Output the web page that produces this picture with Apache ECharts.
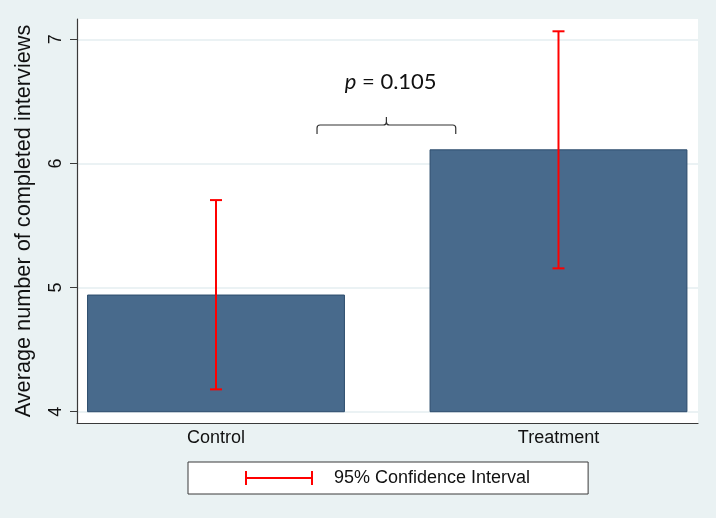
<!DOCTYPE html>
<html>
<head>
<meta charset="utf-8">
<script src="https://cdn.jsdelivr.net/npm/echarts@6/dist/echarts.min.js"></script>
<style>
  html, body { margin: 0; padding: 0; background: #eaf2f3; }
  #chart { width: 716px; height: 518px; }
</style>
</head>
<body>
<div id="chart"></div>
<script>
// ---- data ----
const categories = ['Control', 'Treatment'];
const catPositions = [1, 2];
const means = [4.94, 6.11];
const ciLow = [4.18, 5.155];
const ciHigh = [5.705, 7.065];
const barBase = 4;
const yTicks = [4, 5, 6, 7];
const legendLabel = '95% Confidence Interval';
const pLabel = '0.105';
const braceFrom = 1.295;
const braceTo = 1.70;
const braceLevel = 6.31;
const pTextX = 1.51;
const pTextY = 6.655;

const chart = echarts.init(document.getElementById('chart'), null, { renderer: 'canvas' });

const barData = catPositions.map((p, i) => [p, means[i]]);
const ciData = catPositions.map((p, i) => [p, ciLow[i], ciHigh[i]]);
const annData = [[braceFrom, braceTo, braceLevel, pTextX, pTextY]];

const BAR_HALF = 0.375;
const font = 'Liberation Sans, Arial, sans-serif';

const option = {
  backgroundColor: '#eaf2f3',
  animation: false,
  grid: {
    left: 77, top: 19, width: 621, height: 404,
    show: true, backgroundColor: '#ffffff', borderWidth: 0
  },
  xAxis: {
    type: 'value',
    min: 0.5942, max: 2.4073,
    axisLine: { show: true, onZero: false, lineStyle: { color: '#3a3a3a', width: 1.2 } },
    axisTick: { show: false },
    splitLine: { show: false },
    axisLabel: {
      customValues: catPositions,
      formatter: v => categories[catPositions.indexOf(v)] || '',
      fontFamily: font, fontSize: 18, color: '#111', margin: 6
    }
  },
  yAxis: {
    type: 'value',
    min: 3.909, max: 7.164,
    name: 'Average number of completed interviews',
    nameLocation: 'middle',
    nameGap: 42,
    nameTextStyle: { fontFamily: font, fontSize: 21.7, color: '#111' },
    axisLine: { show: true, onZero: false, lineStyle: { color: '#3a3a3a', width: 1.2 } },
    axisTick: { show: true, customValues: yTicks, length: 7, lineStyle: { color: '#3a3a3a' } },
    splitLine: { show: true, lineStyle: { color: '#e4eef0', width: 1.5 } },
    axisLabel: {
      customValues: yTicks,
      rotate: 90,
      fontFamily: font, fontSize: 18, color: '#111', margin: 12
    }
  },
  legend: {
    left: 188, top: 462,
    padding: [7, 58, 7, 57],
    backgroundColor: '#ffffff',
    borderColor: '#3a3a3a', borderWidth: 1, borderRadius: 0,
    itemWidth: 68, itemHeight: 14,
    textStyle: { fontFamily: font, fontSize: 18, color: '#111', padding: [0, 0, 0, 16] },
    data: [{
      name: legendLabel,
      icon: 'path://M0,0 L2,0 L2,6 L66,6 L66,0 L68,0 L68,14 L66,14 L66,8 L2,8 L2,14 L0,14 Z',
      itemStyle: { color: '#ff0000' }
    }],
    selectedMode: false
  },
  series: [
    {
      name: 'Mean',
      type: 'custom',
      data: barData,
      clip: false,
      renderItem: (params, api) => {
        const x = api.value(0), v = api.value(1);
        const p0 = api.coord([x - BAR_HALF, barBase]);
        const p1 = api.coord([x + BAR_HALF, v]);
        return {
          type: 'rect',
          shape: { x: p0[0], y: p1[1], width: p1[0] - p0[0], height: p0[1] - p1[1] },
          style: { fill: '#486a8c', stroke: '#2c4c6c', lineWidth: 1 }
        };
      }
    },
    {
      name: legendLabel,
      type: 'custom',
      data: ciData,
      clip: false,
      itemStyle: { color: '#ff0000' },
      renderItem: (params, api) => {
        const x = api.value(0);
        const lo = api.coord([x, api.value(1)]);
        const hi = api.coord([x, api.value(2)]);
        const cap = 6;
        const st = { stroke: '#ff0000', lineWidth: 2 };
        return {
          type: 'group',
          children: [
            { type: 'line', shape: { x1: lo[0], y1: lo[1], x2: hi[0], y2: hi[1] }, style: st },
            { type: 'line', shape: { x1: lo[0] - cap, y1: lo[1], x2: lo[0] + cap, y2: lo[1] }, style: st },
            { type: 'line', shape: { x1: hi[0] - cap, y1: hi[1], x2: hi[0] + cap, y2: hi[1] }, style: st }
          ]
        };
      }
    },
    {
      name: 'annotation',
      type: 'custom',
      data: annData,
      clip: false,
      silent: true,
      renderItem: (params, api) => {
        const a = api.coord([api.value(0), api.value(2)]);
        const b = api.coord([api.value(1), api.value(2)]);
        const t = api.coord([api.value(3), api.value(4)]);
        const y = a[1], xl = a[0], xr = b[0], xm = (xl + xr) / 2;
        const r = 3, dn = 9, up = 8;
        const path =
          'M' + xl + ',' + (y + dn) +
          ' L' + xl + ',' + (y + r) +
          ' Q' + xl + ',' + y + ' ' + (xl + r) + ',' + y +
          ' L' + (xm - r) + ',' + y +
          ' Q' + xm + ',' + y + ' ' + xm + ',' + (y - r) +
          ' L' + xm + ',' + (y - up) +
          ' M' + xm + ',' + (y - r) +
          ' Q' + xm + ',' + y + ' ' + (xm + r) + ',' + y +
          ' L' + (xr - r) + ',' + y +
          ' Q' + xr + ',' + y + ' ' + xr + ',' + (y + r) +
          ' L' + xr + ',' + (y + dn);
        return {
          type: 'group',
          children: [
            {
              type: 'path',
              shape: { pathData: path },
              style: { fill: 'none', stroke: '#333', lineWidth: 1.2 }
            },
            {
              type: 'text',
              x: t[0], y: t[1],
              style: {
                text: '{i|p} = ' + pLabel,
                align: 'center', verticalAlign: 'middle',
                fontFamily: 'Lato, sans-serif', fontSize: 22, fill: '#111',
                rich: { i: { fontStyle: 'italic', fontFamily: 'Lato, sans-serif', fontSize: 22, fill: '#111' } }
              }
            }
          ]
        };
      }
    }
  ]
};

chart.setOption(option);
</script>
</body>
</html>
